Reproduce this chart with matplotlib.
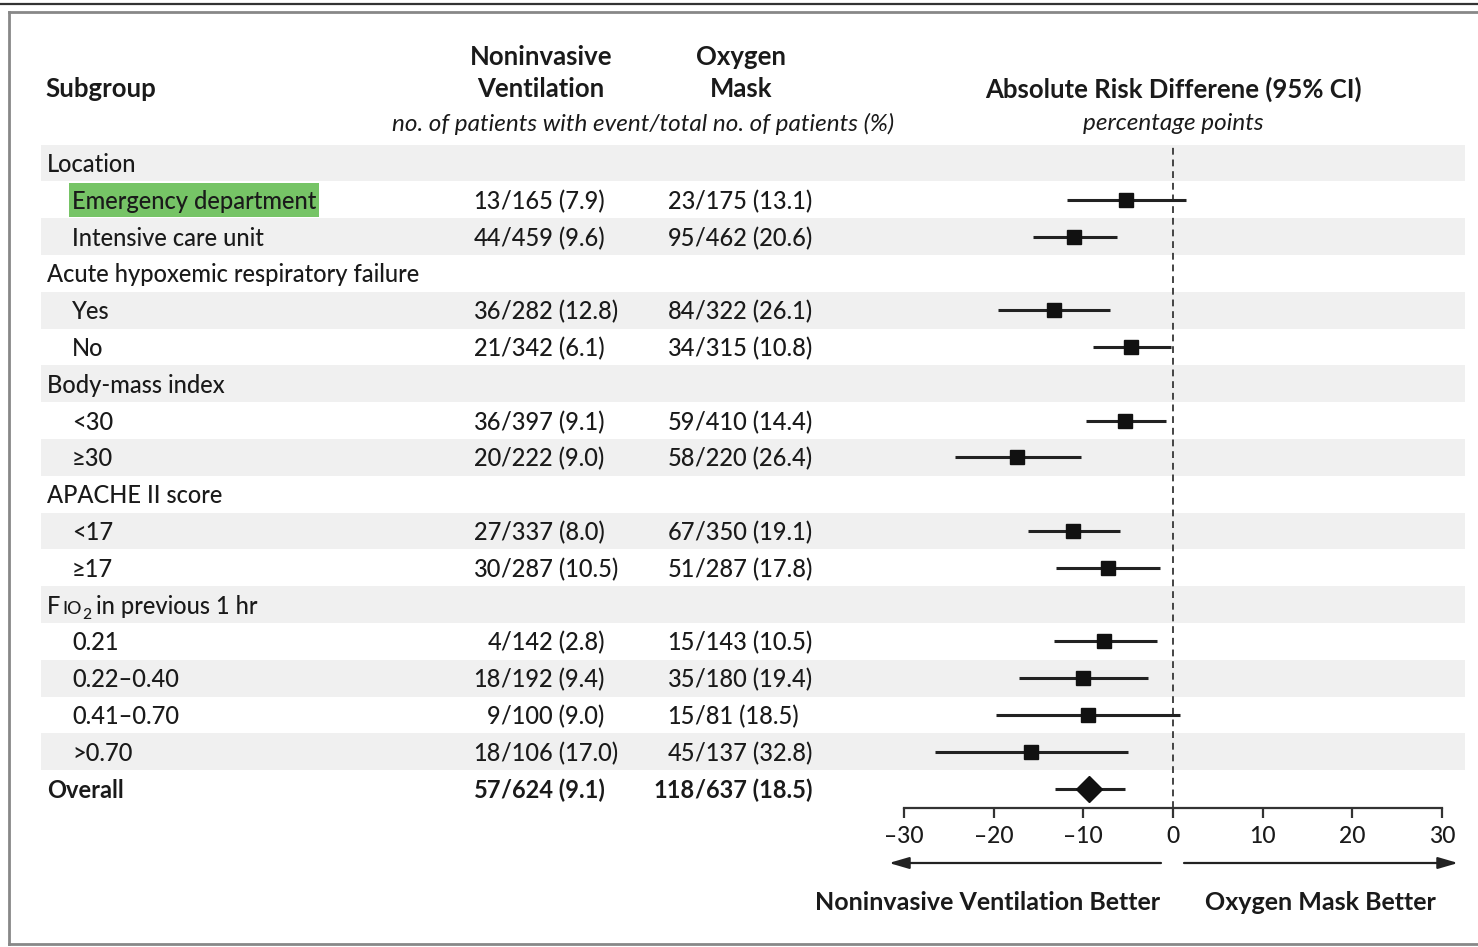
import numpy as np
import matplotlib
matplotlib.use("Agg")
import matplotlib.pyplot as plt
from matplotlib.patches import Rectangle
from matplotlib.lines import Line2D

plt.rcParams['font.family'] = ['Lato', 'DejaVu Sans']
plt.rcParams['text.color'] = '#1a1a1a'

# ---- data ----
labels = ["Location", "Emergency department", "Intensive care unit",
          "Acute hypoxemic respiratory failure", "Yes", "No",
          "Body-mass index", "<30", "\u226530",
          "APACHE II score", "<17", "\u226517",
          "FIO2", "0.21", "0.22\u20130.40", "0.41\u20130.70", ">0.70",
          "Overall"]
level = [0, 1, 1, 0, 1, 1, 0, 1, 1, 0, 1, 1, 0, 1, 1, 1, 1, 0]
niv = ["", "13/165 (7.9)", "44/459 (9.6)", "", "36/282 (12.8)", "21/342 (6.1)",
       "", "36/397 (9.1)", "20/222 (9.0)", "", "27/337 (8.0)", "30/287 (10.5)",
       "", "4/142 (2.8)", "18/192 (9.4)", "9/100 (9.0)", "18/106 (17.0)",
       "57/624 (9.1)"]
oxy = ["", "23/175 (13.1)", "95/462 (20.6)", "", "84/322 (26.1)", "34/315 (10.8)",
       "", "59/410 (14.4)", "58/220 (26.4)", "", "67/350 (19.1)", "51/287 (17.8)",
       "", "15/143 (10.5)", "35/180 (19.4)", "15/81 (18.5)", "45/137 (32.8)",
       "118/637 (18.5)"]
est = [np.nan, -5.2, -11.0, np.nan, -13.3, -4.7, np.nan, -5.3, -17.4, np.nan,
       -11.1, -7.3, np.nan, -7.7, -10.0, -9.5, -15.8, -9.4]
lo = [np.nan, -11.8, -15.6, np.nan, -19.5, -8.9, np.nan, -9.7, -24.3, np.nan,
      -16.2, -13.0, np.nan, -13.3, -17.2, -19.7, -26.5, -13.2]
hi = [np.nan, 1.4, -6.3, np.nan, -7.0, -0.2, np.nan, -0.8, -10.3, np.nan,
      -5.9, -1.5, np.nan, -1.8, -2.8, 0.8, -5.0, -5.4]
xticks = [-30, -20, -10, 0, 10, 20, 30]

# ---- layout (pixels) ----
W, H = 1478, 947
ROW0, ROWH = 163, 36.8
FS = 17        # body text
FSB = 18.5     # bold headers
FSI = 17.5     # italic sub headers
DY = 0.04      # small downward nudge of row text
WT = 'medium'


def py(p):
    return (p - ROW0) / ROWH


fig = plt.figure(figsize=(W / 100, H / 100), dpi=100)
fig.patch.set_facecolor('white')

ax = fig.add_axes([0, 0, 1, 1])
ax.set_xlim(0, W)
ax.set_ylim(py(H), py(0))
ax.axis('off')

# frame
ax.add_line(Line2D([0, W], [py(4), py(4)], color='#333333', lw=1.6))
ax.add_line(Line2D([9, W], [py(12), py(12)], color='#888888', lw=2))
ax.add_line(Line2D([9, 9], [py(12), py(944)], color='#888888', lw=2))
ax.add_line(Line2D([9, W], [py(944), py(944)], color='#888888', lw=2))

# shaded rows
n = len(labels)
for i in range(n - 1):
    if i % 2 == 0:
        ax.add_patch(Rectangle((41, i - 0.5), 1465 - 41, 1, facecolor='#f0f0f0',
                               edgecolor='none', zorder=0))

# headers
ax.text(45, py(89), "Subgroup", fontsize=FSB, fontweight='bold', va='center')
ax.text(541, py(57), "Noninvasive", fontsize=FSB, fontweight='bold', va='center', ha='center')
ax.text(541, py(89), "Ventilation", fontsize=FSB, fontweight='bold', va='center', ha='center')
ax.text(741, py(57), "Oxygen", fontsize=FSB, fontweight='bold', va='center', ha='center')
ax.text(741, py(89), "Mask", fontsize=FSB, fontweight='bold', va='center', ha='center')
ax.text(643, py(124), "no. of patients with event/total no. of patients (%)",
        fontsize=FSI, style='italic', va='center', ha='center')
ax.text(1173, py(89), "Absolute Risk Differene (95% CI)", fontsize=FSB,
        fontweight='bold', va='center', ha='center')
ax.text(1173, py(124), "percentage points", fontsize=FSI, style='italic',
        va='center', ha='center')

fig.canvas.draw()
renderer = fig.canvas.get_renderer()

# table body
for i in range(n):
    bold = 'bold' if labels[i] == "Overall" else WT
    x = 47 if level[i] == 0 else 72
    if labels[i] == "FIO2":
        # F + small caps IO + subscript 2, all on one baseline
        t1 = ax.text(x, i + DY, "F", fontsize=FS, va='center', fontweight=WT)
        fig.canvas.draw()
        bb = t1.get_window_extent(renderer)
        _, _, lp_d = renderer.get_text_width_height_descent(
            "lp", t1.get_fontproperties(), ismath=False)
        base = bb.y0 + lp_d
        inv = ax.transData.inverted()
        xb, yb = inv.transform((bb.x1 + 1.5, base))
        t2 = ax.text(xb, yb, "IO", fontsize=FS * 0.76, va='baseline', fontweight=WT)
        fig.canvas.draw()
        bb2 = t2.get_window_extent(renderer)
        xs, ys = inv.transform((bb2.x1 + 1, base - 5))
        t3 = ax.text(xs, ys, "2", fontsize=FS * 0.66, va='baseline', fontweight=WT)
        fig.canvas.draw()
        bb3 = t3.get_window_extent(renderer)
        xr, yr = inv.transform((bb3.x1 + 5, base))
        ax.text(xr, yr, "in previous 1 hr", fontsize=FS, va='baseline', fontweight=WT)
    else:
        t = ax.text(x, i + DY, labels[i], fontsize=FS, va='center', fontweight=bold)
        if labels[i] == "Emergency department":
            fig.canvas.draw()
            bb = t.get_window_extent(renderer)
            ax.add_patch(Rectangle((bb.x0 - 3, i - 0.47), bb.width + 6, 0.94,
                                   facecolor='#76c466', edgecolor='none', zorder=1))
    for col, sx in ((niv, 501), (oxy, 695)):
        if col[i]:
            num, rest = col[i].split('/', 1)
            ax.text(sx, i + DY, num, fontsize=FS, va='center', ha='right', fontweight=bold)
            ax.text(sx, i + DY, '/' + rest, fontsize=FS, va='center', ha='left', fontweight=bold)

# arrows and captions below axis
ya = py(863)
ax.annotate("", xy=(889, ya), xytext=(1161, ya),
            arrowprops=dict(arrowstyle='-|>,head_length=1.2,head_width=0.35',
                            color='#222222', lw=1.6, shrinkA=0, shrinkB=0))
ax.annotate("", xy=(1458, ya), xytext=(1184, ya),
            arrowprops=dict(arrowstyle='-|>,head_length=1.2,head_width=0.35',
                            color='#222222', lw=1.6, shrinkA=0, shrinkB=0))
ax.text(1160, py(902), "Noninvasive Ventilation Better", fontsize=18,
        fontweight='bold', va='center', ha='right')
ax.text(1205, py(902), "Oxygen Mask Better", fontsize=18,
        fontweight='bold', va='center', ha='left')

# ---- forest axes ----
fa = fig.add_axes([904 / W, 1 - 808 / H, 538 / W, (808 - 145) / H])
fa.set_xlim(-30, 30)
fa.set_ylim(py(808), py(145))
fa.patch.set_alpha(0)
for s in ['top', 'right', 'left']:
    fa.spines[s].set_visible(False)
fa.spines['bottom'].set_color('#333333')
fa.spines['bottom'].set_linewidth(1.6)
fa.set_yticks([])
fa.set_xticks(xticks)
fa.set_xticklabels([str(v).replace('-', '\u2013') for v in xticks])
fa.tick_params(axis='x', direction='out', length=7, width=1.6, color='#333333',
               labelsize=16.5, pad=6, labelcolor='#1a1a1a')
for lab in fa.get_xticklabels():
    lab.set_fontweight(WT)

fa.axvline(0, color='#444444', lw=1.4, ls=(0, (3.5, 2.5)), zorder=1)

rows = np.arange(n)
est_a, lo_a, hi_a = np.array(est), np.array(lo), np.array(hi)
ok = ~np.isnan(est_a)
fa.hlines(rows[ok], lo_a[ok], hi_a[ok], color='#222222', lw=2.2, zorder=2)
sq = ok & (rows < n - 1)
fa.plot(est_a[sq], rows[sq], 's', color='#111111', ms=9.5, zorder=3)
fa.plot(est_a[n - 1], rows[n - 1], 'D', color='#111111', ms=13, zorder=3)

fig.savefig("out.png", dpi=100, facecolor='white')
